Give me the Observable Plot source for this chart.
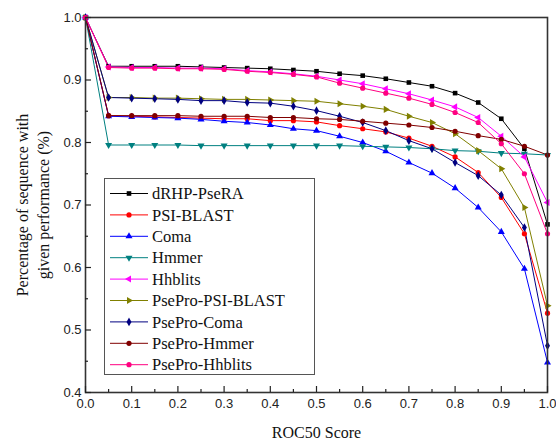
<!DOCTYPE html>
<html>
<head>
<meta charset="utf-8">
<script src="https://cdn.jsdelivr.net/npm/d3@7"></script>
<script src="https://cdn.jsdelivr.net/npm/@observablehq/plot@0.6"></script>
<style>
  html, body { margin: 0; padding: 0; background: #fff; }
  #wrap { position: relative; width: 556px; height: 441px; }
  #legend { position: absolute; left: 104px; top: 178px; }
</style>
</head>
<body>
<div id="wrap"><div id="chart"></div><div id="legend"></div></div>
<script>
// ---- data ----
const roc50 = [0, 0.05, 0.1, 0.15, 0.2, 0.25, 0.3, 0.35, 0.4, 0.45, 0.5, 0.55, 0.6, 0.65, 0.7, 0.75, 0.8, 0.85, 0.9, 0.95, 1.0];
const seriesNames = ["dRHP-PseRA", "PSI-BLAST", "Coma", "Hmmer", "Hhblits", "PsePro-PSI-BLAST", "PsePro-Coma", "PsePro-Hmmer", "PsePro-Hhblits"];
const dRHPPseRA     = [1.0, 0.922, 0.922, 0.922, 0.922, 0.921, 0.920, 0.919, 0.918, 0.916, 0.914, 0.910, 0.907, 0.902, 0.896, 0.890, 0.879, 0.864, 0.838, 0.790, 0.669];
const psiBlast      = [1.0, 0.843, 0.842, 0.841, 0.840, 0.839, 0.838, 0.838, 0.835, 0.835, 0.833, 0.827, 0.822, 0.817, 0.807, 0.794, 0.777, 0.752, 0.712, 0.654, 0.527];
const coma          = [1.0, 0.842, 0.841, 0.840, 0.839, 0.837, 0.834, 0.832, 0.828, 0.822, 0.819, 0.810, 0.800, 0.786, 0.768, 0.751, 0.727, 0.696, 0.657, 0.598, 0.448];
const hmmer         = [1.0, 0.796, 0.796, 0.796, 0.796, 0.795, 0.795, 0.795, 0.795, 0.795, 0.795, 0.795, 0.794, 0.793, 0.792, 0.790, 0.787, 0.786, 0.783, 0.782, 0.780];
const hhblits       = [1.0, 0.921, 0.920, 0.920, 0.919, 0.919, 0.918, 0.915, 0.913, 0.910, 0.906, 0.900, 0.894, 0.886, 0.878, 0.868, 0.857, 0.840, 0.810, 0.777, 0.704];
const pseProPsiBlast= [1.0, 0.872, 0.872, 0.871, 0.871, 0.870, 0.869, 0.869, 0.868, 0.867, 0.866, 0.862, 0.858, 0.853, 0.842, 0.832, 0.814, 0.787, 0.758, 0.696, 0.539];
const pseProComa    = [1.0, 0.872, 0.871, 0.870, 0.869, 0.867, 0.867, 0.864, 0.863, 0.858, 0.851, 0.842, 0.832, 0.819, 0.803, 0.790, 0.768, 0.747, 0.716, 0.664, 0.475];
const pseProHmmer   = [1.0, 0.843, 0.843, 0.843, 0.843, 0.842, 0.842, 0.842, 0.840, 0.840, 0.838, 0.837, 0.834, 0.831, 0.828, 0.824, 0.818, 0.811, 0.805, 0.794, 0.780];
const pseProHhblits = [1.0, 0.920, 0.919, 0.919, 0.918, 0.918, 0.917, 0.914, 0.912, 0.909, 0.905, 0.895, 0.887, 0.879, 0.871, 0.861, 0.848, 0.832, 0.798, 0.750, 0.654];
const xMajorTicks = [0, 0.1, 0.2, 0.3, 0.4, 0.5, 0.6, 0.7, 0.8, 0.9, 1.0];
const xMinorTicks = [0.05, 0.15, 0.25, 0.35, 0.45, 0.55, 0.65, 0.75, 0.85, 0.95];
const yMajorTicks = [0.4, 0.5, 0.6, 0.7, 0.8, 0.9, 1.0];
const yMinorTicks = [0.45, 0.55, 0.65, 0.75, 0.85, 0.95];
const xTitle = "ROC50 Score";
const yTitle1 = "Percentage of sequence with";
const yTitle2 = "given performance (%)";

// ---- styles ----
const valuesList = [dRHPPseRA, psiBlast, coma, hmmer, hhblits, pseProPsiBlast, pseProComa, pseProHmmer, pseProHhblits];
const colors = ["#000000", "#FF0000", "#0000FF", "#008080", "#FF00FF", "#808000", "#000080", "#800000", "#FF0080"];
const tri = (a) => ({
  draw(ctx, size) {
    const y = -Math.sqrt(size / (Math.sqrt(3) * 3));
    const pts = [[0, y * 2], [-Math.sqrt(3) * y, -y], [Math.sqrt(3) * y, -y]];
    const c = Math.cos(a), s = Math.sin(a);
    pts.forEach(([px, py], i) => {
      const X = px * c - py * s, Y = px * s + py * c;
      i ? ctx.lineTo(X, Y) : ctx.moveTo(X, Y);
    });
    ctx.closePath();
  }
});
const symbols = [d3.symbolSquare, d3.symbolCircle, tri(0), tri(Math.PI), tri(-Math.PI / 2), tri(Math.PI / 2), d3.symbolDiamond, d3.symbolCircle, d3.symbolCircle];

const rows = [];
seriesNames.forEach((name, k) => roc50.forEach((x, i) => rows.push({series: name, k, x, y: valuesList[k][i]})));

const serif = "Liberation Serif, serif";
const marks = [];
seriesNames.forEach((name, k) => {
  const d = rows.filter(r => r.k === k);
  marks.push(Plot.line(d, {x: "x", y: "y", stroke: colors[k], strokeWidth: 1}));
});
seriesNames.forEach((name, k) => {
  const d = rows.filter(r => r.k === k);
  marks.push(Plot.dot(d, {x: "x", y: "y", fill: colors[k], stroke: "none", r: 2.6, symbol: symbols[k]}));
});

const chart = Plot.plot({
  width: 556, height: 441,
  marginLeft: 85, marginRight: 9, marginTop: 17, marginBottom: 49,
  x: {domain: [0, 1]},
  y: {domain: [0.4, 1.0]},
  style: {fontFamily: "Liberation Sans, Arial, sans-serif", fontSize: "13px", color: "#000", background: "#fff"},
  marks: [
    ...marks,
    Plot.frame({stroke: "#333", strokeWidth: 1.6}),
    Plot.tickX(xMajorTicks, {x: d => d, insetTop: 369, stroke: "#222", strokeWidth: 1.2}),
    Plot.tickX(xMinorTicks, {x: d => d, insetTop: 372, stroke: "#222", strokeWidth: 1.2}),
    Plot.tickY(yMajorTicks, {y: d => d, insetRight: 456, stroke: "#222", strokeWidth: 1.2}),
    Plot.tickY(yMinorTicks, {y: d => d, insetRight: 459, stroke: "#222", strokeWidth: 1.2}),
    Plot.axisX({ticks: xMajorTicks, tickSize: 0, tickPadding: 6, tickFormat: d => d.toFixed(1), label: null, fontSize: 13, fill: "#222"}),
    Plot.axisY({ticks: yMajorTicks, tickSize: 0, tickPadding: 4, tickFormat: d => d.toFixed(1), label: null, fontSize: 13, fill: "#222"}),
    Plot.text([xTitle], {text: d => d, frameAnchor: "bottom", textAnchor: "middle", dy: 45, fontFamily: serif, fontSize: 16, fill: "#111"}),
    Plot.text([yTitle1], {text: d => d, frameAnchor: "left", textAnchor: "middle", rotate: -90, dx: -63, fontFamily: serif, fontSize: 16, fill: "#111"}),
    Plot.text([yTitle2], {text: d => d, frameAnchor: "left", textAnchor: "middle", rotate: -90, dx: -42, fontFamily: serif, fontSize: 16, fill: "#111"})
  ]
});
document.getElementById("chart").appendChild(chart);

// ---- legend ----
const lw = 211, lh = 197;
const lsvg = d3.select("#legend").append("svg").attr("width", lw).attr("height", lh);
lsvg.append("rect").attr("x", 0.5).attr("y", 0.5).attr("width", lw - 1).attr("height", lh - 1)
  .attr("fill", "#fff").attr("stroke", "#555").attr("stroke-width", 1);
seriesNames.forEach((name, k) => {
  const cy = 15.5 + k * 21.4;
  const g = lsvg.append("g").attr("transform", `translate(0,${cy})`);
  g.append("line").attr("x1", 6).attr("x2", 44).attr("stroke", colors[k]).attr("stroke-width", 1);
  g.append("path").attr("transform", "translate(25,0)")
    .attr("d", d3.symbol(symbols[k], Math.PI * 2.6 * 2.6)()).attr("fill", colors[k]);
  g.append("text").attr("x", 48).attr("y", 0).attr("dy", "0.35em")
    .attr("font-family", serif).attr("font-size", 16.5).attr("fill", "#111").text(name);
});
</script>
</body>
</html>
